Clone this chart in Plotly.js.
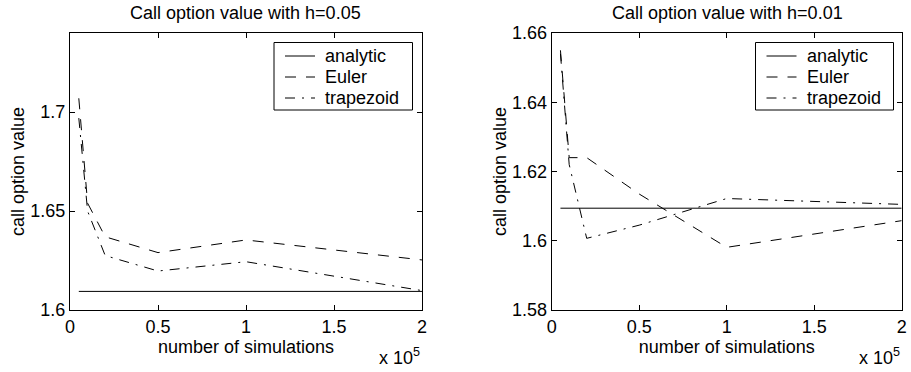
<!DOCTYPE html>
<html>
<head>
<meta charset="utf-8">
<script src="https://cdn.plot.ly/plotly-3.0.1.min.js"></script>
<style>html,body{margin:0;padding:0;background:#fff;} #chart{width:911px;height:372px;}</style>
</head>
<body>
<div id="chart"></div>
<script>
// number of simulations
var nSims = [5000, 10000, 20000, 50000, 100000, 200000];
var analyticValue = 1.6094;
// h = 0.05
var eulerH005 = [1.707, 1.654, 1.637, 1.629, 1.6354, 1.6253];
var trapH005  = [1.697, 1.650, 1.6275, 1.6197, 1.6244, 1.6098];
// h = 0.01
var eulerH001 = [1.655, 1.624, 1.624, 1.6135, 1.5981, 1.6058];
var trapH001  = [1.654, 1.622, 1.6007, 1.6045, 1.6122, 1.6105];

var seriesNames = ['analytic', 'Euler', 'trapezoid'];
var xTickVals = [0, 50000, 100000, 150000, 200000];
var xTickText = ['0', '0.5', '1', '1.5', '2'];
var yTicksLeft = [1.6, 1.65, 1.7];
var yTicksLeftText = ['1.6', '1.65', '1.7'];
var yTicksRight = [1.58, 1.6, 1.62, 1.64, 1.66];
var yTicksRightText = ['1.58', '1.6', '1.62', '1.64', '1.66'];

var analyticLine = nSims.map(function(){ return analyticValue; });
var FONT = 'Liberation Sans, Arial, Helvetica, sans-serif';
var W = 911, H = 372;
var DASHES = ['solid', '11px,10px', '10px,7px,2px,7px'];

function tr(y, idx, xa, ya) {
  return {x: nSims, y: y, name: seriesNames[idx], type: 'scatter', mode: 'lines',
    xaxis: xa, yaxis: ya, showlegend: false,
    line: {color: '#000', width: 1, dash: DASHES[idx]}};
}

var data = [
  tr(analyticLine, 0, 'x', 'y'),
  tr(eulerH005, 1, 'x', 'y'),
  tr(trapH005, 2, 'x', 'y'),
  tr(analyticLine, 0, 'x2', 'y2'),
  tr(eulerH001, 1, 'x2', 'y2'),
  tr(trapH001, 2, 'x2', 'y2')
];

function xax(domain, anchor) {
  return {domain: domain, anchor: anchor, range: [0, 200000],
    tickvals: xTickVals, ticktext: xTickText,
    ticks: 'inside', ticklen: 5, tickcolor: '#000', tickwidth: 1,
    showline: true, linecolor: '#000', linewidth: 1, mirror: 'ticks',
    showgrid: false, zeroline: false, automargin: false,
    tickfont: {family: FONT, size: 18, color: '#000'},
    title: {text: 'number of simulations', font: {family: FONT, size: 18, color: '#000'}, standoff: 2}};
}
function yax(domain, anchor, range, tv, tt) {
  return {domain: domain, anchor: anchor, range: range,
    tickvals: tv, ticktext: tt,
    ticks: 'inside', ticklen: 5, tickcolor: '#000', tickwidth: 1,
    showline: true, linecolor: '#000', linewidth: 1, mirror: 'ticks',
    showgrid: false, zeroline: false, automargin: false,
    tickfont: {family: FONT, size: 18, color: '#000'},
    title: {text: 'call option value', font: {family: FONT, size: 18, color: '#000'}}};
}

// hand-made legend boxes (pixel geometry -> paper fractions)
var shapes = [], annotations = [];
function px(v) { return v / W; }
function py(v) { return 1 - v / H; }
function legendBox(x0, y0, x1, y1, lineX0, textX, rows) {
  shapes.push({type: 'rect', xref: 'paper', yref: 'paper',
    x0: px(x0), x1: px(x1), y0: py(y0), y1: py(y1),
    line: {color: '#000', width: 1}, fillcolor: '#fff', layer: 'above'});
  rows.forEach(function(ry, i) {
    shapes.push({type: 'line', xref: 'paper', yref: 'paper',
      x0: px(lineX0), x1: px(lineX0 + 30), y0: py(ry), y1: py(ry),
      line: {color: '#000', width: 1, dash: DASHES[i]}, layer: 'above'});
    annotations.push({text: seriesNames[i], xref: 'paper', yref: 'paper',
      x: px(textX), y: py(ry), xanchor: 'left', yanchor: 'middle', showarrow: false,
      font: {family: FONT, size: 18, color: '#000'}});
  });
}
legendBox(274, 42.5, 412.5, 110, 285, 323, [56, 77, 98]);
legendBox(755.5, 42.5, 893.5, 110, 766.5, 804.5, [56, 77, 98]);

annotations.push(
  {text: 'Call option value with h=0.05', xref: 'paper', yref: 'paper',
   x: px(246), y: py(13), xanchor: 'center', yanchor: 'middle', showarrow: false,
   font: {family: FONT, size: 18, color: '#000'}},
  {text: 'Call option value with h=0.01', xref: 'paper', yref: 'paper',
   x: px(727), y: py(13), xanchor: 'center', yanchor: 'middle', showarrow: false,
   font: {family: FONT, size: 18, color: '#000'}},
  {text: 'x 10<sup>5</sup>', xref: 'paper', yref: 'paper',
   x: px(422), y: py(356), xanchor: 'right', yanchor: 'middle', showarrow: false,
   font: {family: FONT, size: 18, color: '#000'}},
  {text: 'x 10<sup>5</sup>', xref: 'paper', yref: 'paper',
   x: px(902), y: py(356), xanchor: 'right', yanchor: 'middle', showarrow: false,
   font: {family: FONT, size: 18, color: '#000'}}
);

var yDom = [62/372, 339/372];
var layout = {
  width: W, height: H,
  margin: {l: 0, r: 0, t: 0, b: 0},
  paper_bgcolor: '#fff', plot_bgcolor: '#fff',
  showlegend: false,
  font: {family: FONT, size: 18, color: '#000'},
  xaxis: xax([70/911, 422/911], 'y'),
  yaxis: yax(yDom, 'x', [1.6, 1.74], yTicksLeft, yTicksLeftText),
  xaxis2: xax([551.7/911, 901.7/911], 'y2'),
  yaxis2: yax(yDom, 'x2', [1.58, 1.66], yTicksRight, yTicksRightText),
  shapes: shapes,
  annotations: annotations
};

Plotly.newPlot('chart', data, layout, {displayModeBar: false, staticPlot: true});
</script>
</body>
</html>
